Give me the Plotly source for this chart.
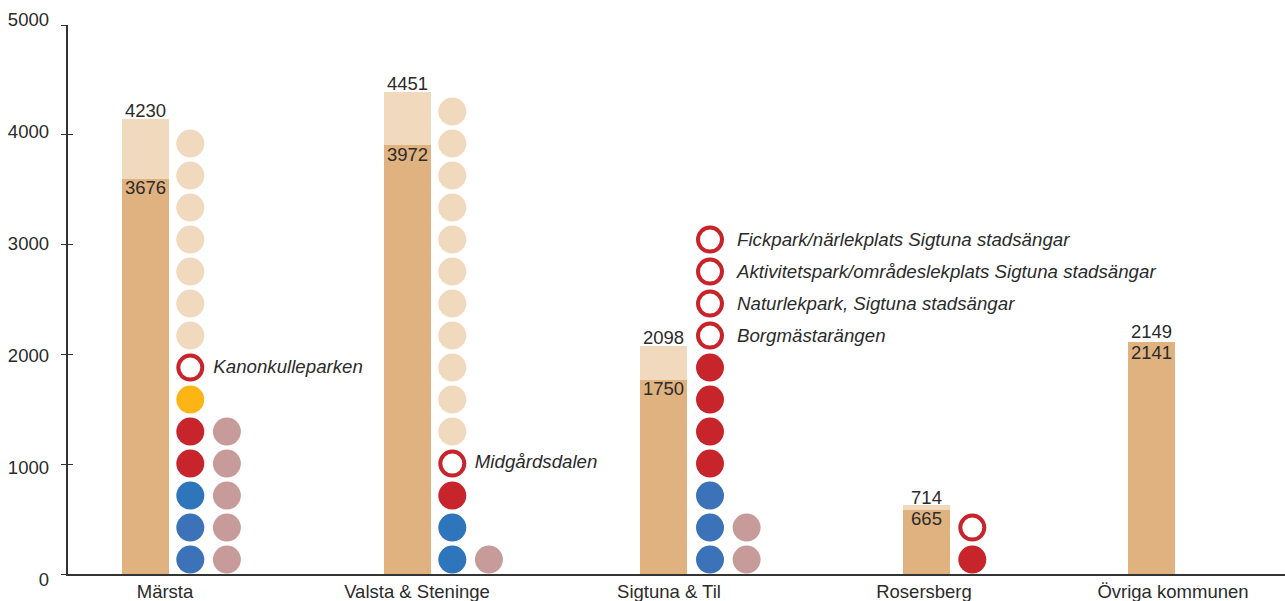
import plotly.graph_objects as go

# ---- data ----
categories = ["Märsta", "Valsta & Steninge", "Sigtuna & Til", "Rosersberg", "Övriga kommunen"]
total_labels = [4230, 4451, 2098, 714, 2149]
base_labels = [3676, 3972, 1750, 665, 2141]
total_heights = [4148, 4394, 2081, 624, 2117]
base_heights = [3602, 3903, 1771, 587, 2117]

y_ticks = [0, 1000, 2000, 3000, 4000, 5000]

col1_marsta = ["blue2", "blue2", "blue1", "red", "red", "yellow", "open"] + ["beige"] * 7
col2_marsta = ["rose"] * 5
col1_valsta = ["blue1", "blue1", "red", "open"] + ["beige"] * 11
col2_valsta = ["rose"]
col1_sigtuna = ["blue2", "blue2", "blue2", "red", "red", "red", "red", "open", "open", "open", "open"]
col2_sigtuna = ["rose"] * 2
col1_rosersberg = ["red", "open"]

named_marsta = {6: "Kanonkulleparken"}
named_valsta = {3: "Midgårdsdalen"}
named_sigtuna = {
    7: "Borgmästarängen",
    8: "Naturlekpark, Sigtuna stadsängar",
    9: "Aktivitetspark/områdeslekplats Sigtuna stadsängar",
    10: "Fickpark/närlekplats Sigtuna stadsängar",
}
named_rosersberg = {}

# ---- styling / layout constants ----
W, H = 1285, 601
PLOT_TOP, PLOT_BOTTOM = 15, 590
AXIS_LEFT = 68
Y0_PX, Y5000_PX = 574, 25
LABEL0_PX, LABEL5000_PX = 580, 20
CAT_STEP_PX, CAT0_PX = 252, 165
PX_PER_UNIT = (Y0_PX - Y5000_PX) / 5000
BAR_PX = 47
BAR_OFFSET_PX = [-19.5, -9.5, -5.5, 5.5, -21.5]
COL_SHIFT_PX = [0, 0, 1.7, 1, 0]
COL1_GAP, COL2_GAP = 44.8, 81.4
LABEL_GAP = [23, 22.5, 27, 0, 0]
LABEL_DROP_PX = [1, 0, 2, 0, 0]
TICK_NUDGE_PX = [0, 0, 0, 3, 0]
TOP_TEXT_NUDGE_PX = [-3, -3, -3, -3, -1.5]
BASE_TEXT_NUDGE_PX = [1.5, 1.5, 1.5, 1.5, 3.5]
DOT_STEP = 32 / PX_PER_UNIT
DOT_START = 14.4 / PX_PER_UNIT

TEXT = "#2b2b2b"
LINE = "#333333"
DARK, LIGHT = "#E0B27F", "#F0D9BD"
RED = "#C8242B"
COLORS = {"blue1": "#2E75BC", "blue2": "#3B72B8", "red": RED, "yellow": "#FDB515",
          "beige": LIGHT, "rose": "#C89B9B", "open": "#FFFFFF"}
FONT = "Liberation Sans"
FS = 18.5
FS_ITALIC = 18.7
CLEAR = "rgba(0,0,0,0)"


def u(px):
    return px / CAT_STEP_PX


bar_x = [i + u(o) for i, o in enumerate(BAR_OFFSET_PX)]
fig = go.Figure()
fig.add_bar(x=bar_x, y=total_heights, width=u(BAR_PX), marker=dict(color=LIGHT, line_width=0), hoverinfo="skip")
fig.add_bar(x=bar_x, y=base_heights, width=u(BAR_PX), marker=dict(color=DARK, line_width=0), hoverinfo="skip")

fig.add_scatter(x=bar_x, y=[v + n / PX_PER_UNIT for v, n in zip(total_heights, TOP_TEXT_NUDGE_PX)], mode="text",
                text=[str(v) for v in total_labels],
                textposition="top center", textfont=dict(family=FONT, size=FS, color=TEXT),
                cliponaxis=False, hoverinfo="skip")
fig.add_scatter(x=bar_x, y=[v - n / PX_PER_UNIT for v, n in zip(base_heights, BASE_TEXT_NUDGE_PX)], mode="text",
                text=[str(v) for v in base_labels],
                textposition="bottom center", textfont=dict(family=FONT, size=FS, color=TEXT),
                cliponaxis=False, hoverinfo="skip")


def add_column(cat, gap, kinds, names=None):
    x0 = bar_x[cat] + u(gap + COL_SHIFT_PX[cat])
    xs = [x0] * len(kinds)
    ys = [DOT_START + i * DOT_STEP for i in range(len(kinds))]
    sizes = [24 if k == "open" else 28 for k in kinds]
    lw = [4 if k == "open" else 0 for k in kinds]
    fig.add_scatter(x=xs, y=ys, mode="markers", cliponaxis=False, hoverinfo="skip",
                    marker=dict(size=sizes, color=[COLORS[k] for k in kinds],
                                line=dict(width=lw, color=RED), opacity=1))
    if names:
        idx = sorted(names)
        fig.add_scatter(x=[x0 + u(LABEL_GAP[cat])] * len(idx),
                        y=[ys[i] - LABEL_DROP_PX[cat] / PX_PER_UNIT for i in idx],
                        mode="text", text=[names[i] for i in idx], textposition="middle right",
                        textfont=dict(family=FONT, size=FS_ITALIC, color=TEXT, style="italic"),
                        cliponaxis=False, hoverinfo="skip")


add_column(0, COL1_GAP, col1_marsta, named_marsta)
add_column(0, COL2_GAP, col2_marsta)
add_column(1, COL1_GAP, col1_valsta, named_valsta)
add_column(1, COL2_GAP, col2_valsta)
add_column(2, COL1_GAP, col1_sigtuna, named_sigtuna)
add_column(2, COL2_GAP, col2_sigtuna)
add_column(3, COL1_GAP, col1_rosersberg, named_rosersberg)

# empty traces so that the helper axes exist
fig.add_scatter(x=[0], y=[0], yaxis="y2", mode="markers", marker=dict(opacity=0), hoverinfo="skip")
fig.add_scatter(x=[0], y=[0], yaxis="y3", mode="markers", marker=dict(opacity=0), hoverinfo="skip")

span = PLOT_BOTTOM - PLOT_TOP


def dom(bottom_px, top_px):
    return [(PLOT_BOTTOM - bottom_px) / span, (PLOT_BOTTOM - top_px) / span]


fig.update_layout(
    width=W, height=H, margin=dict(l=AXIS_LEFT, r=0, t=PLOT_TOP, b=H - PLOT_BOTTOM, pad=0),
    barmode="overlay", bargap=0, showlegend=False, plot_bgcolor=CLEAR, paper_bgcolor="white",
    font=dict(family=FONT, size=FS, color=TEXT),
    xaxis=dict(range=[(AXIS_LEFT - CAT0_PX) / CAT_STEP_PX, (W - CAT0_PX) / CAT_STEP_PX], automargin=False,
               tickmode="array", tickvals=[i + u(n) for i, n in enumerate(TICK_NUDGE_PX)], ticktext=categories,
               ticks="", showgrid=False, zeroline=False, showline=True, linecolor=LINE, linewidth=1.5,
               ticklabelstandoff=0, anchor="y", tickfont=dict(family=FONT, size=FS, color=TEXT)),
    yaxis=dict(domain=dom(Y0_PX, Y5000_PX), range=[0, 5000], tickvals=y_ticks, ticks="outside", ticklen=5,
               tickwidth=1.2, tickcolor=LINE, showticklabels=False, showgrid=False, zeroline=False,
               showline=True, linecolor=LINE, linewidth=1.5, automargin=False),
    yaxis2=dict(domain=dom(LABEL0_PX, LABEL5000_PX), range=[0, 5000], tickvals=y_ticks, ticks="",
                showgrid=False, zeroline=False, showline=False, anchor="x", side="left", automargin=False,
                ticklabelstandoff=18, tickfont=dict(family=FONT, size=FS, color=TEXT)),
    yaxis3=dict(overlaying="y", range=[0, 5000], tickvals=y_ticks, ticks="inside", ticklen=5,
                tickwidth=1.2, tickcolor=LINE, showticklabels=False, showgrid=False, zeroline=False,
                showline=False, anchor="x", side="left", automargin=False),
)

fig.write_html("out.html", config={"displayModeBar": False},
               post_script="document.body.style.margin='0';document.body.style.overflow='hidden';")
